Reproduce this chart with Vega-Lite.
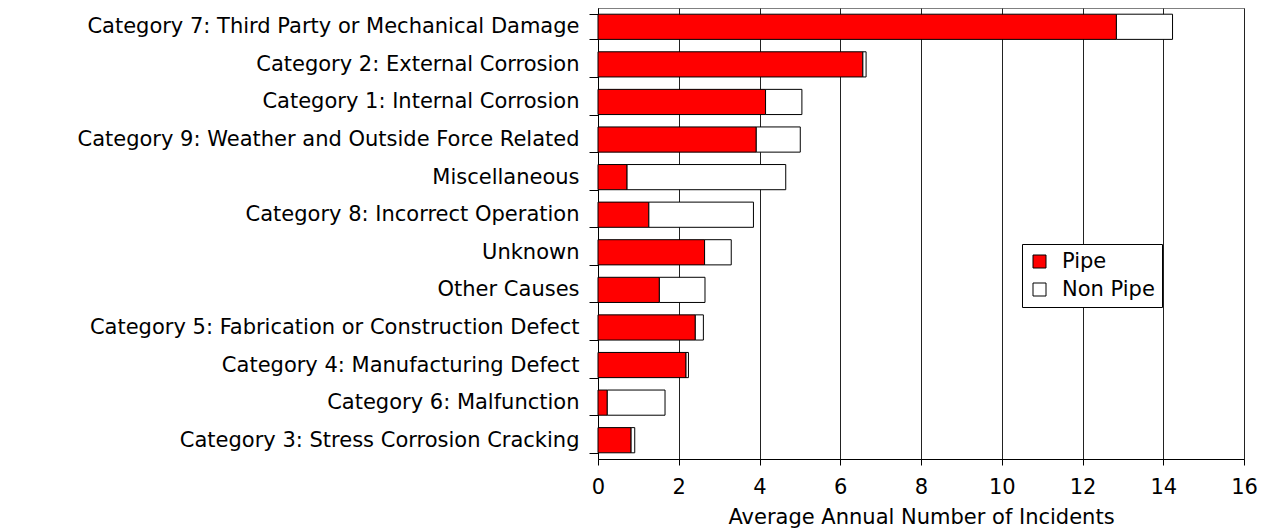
{
  "$schema": "https://vega.github.io/schema/vega-lite/v6.json",
  "autosize": "none",
  "width": 646,
  "height": 451,
  "padding": {"left": 598, "top": 8, "right": 22, "bottom": 72},
  "background": "white",
  "config": {
    "font": "DejaVu Sans",
    "view": {"stroke": "#808080", "strokeWidth": 1}
  },
  "data": {
    "values": [
      {"cause": "Category 7: Third Party or Mechanical Damage", "rank": 1, "type": "Pipe", "o": 1, "v": 12.84},
      {"cause": "Category 7: Third Party or Mechanical Damage", "rank": 1, "type": "Non Pipe", "o": 2, "v": 1.39},
      {"cause": "Category 2: External Corrosion", "rank": 2, "type": "Pipe", "o": 1, "v": 6.56},
      {"cause": "Category 2: External Corrosion", "rank": 2, "type": "Non Pipe", "o": 2, "v": 0.08},
      {"cause": "Category 1: Internal Corrosion", "rank": 3, "type": "Pipe", "o": 1, "v": 4.15},
      {"cause": "Category 1: Internal Corrosion", "rank": 3, "type": "Non Pipe", "o": 2, "v": 0.9},
      {"cause": "Category 9: Weather and Outside Force Related", "rank": 4, "type": "Pipe", "o": 1, "v": 3.92},
      {"cause": "Category 9: Weather and Outside Force Related", "rank": 4, "type": "Non Pipe", "o": 2, "v": 1.09},
      {"cause": "Miscellaneous", "rank": 5, "type": "Pipe", "o": 1, "v": 0.72},
      {"cause": "Miscellaneous", "rank": 5, "type": "Non Pipe", "o": 2, "v": 3.93},
      {"cause": "Category 8: Incorrect Operation", "rank": 6, "type": "Pipe", "o": 1, "v": 1.26},
      {"cause": "Category 8: Incorrect Operation", "rank": 6, "type": "Non Pipe", "o": 2, "v": 2.59},
      {"cause": "Unknown", "rank": 7, "type": "Pipe", "o": 1, "v": 2.64},
      {"cause": "Unknown", "rank": 7, "type": "Non Pipe", "o": 2, "v": 0.66},
      {"cause": "Other Causes", "rank": 8, "type": "Pipe", "o": 1, "v": 1.52},
      {"cause": "Other Causes", "rank": 8, "type": "Non Pipe", "o": 2, "v": 1.13},
      {"cause": "Category 5: Fabrication or Construction Defect", "rank": 9, "type": "Pipe", "o": 1, "v": 2.41},
      {"cause": "Category 5: Fabrication or Construction Defect", "rank": 9, "type": "Non Pipe", "o": 2, "v": 0.2},
      {"cause": "Category 4: Manufacturing Defect", "rank": 10, "type": "Pipe", "o": 1, "v": 2.18},
      {"cause": "Category 4: Manufacturing Defect", "rank": 10, "type": "Non Pipe", "o": 2, "v": 0.06},
      {"cause": "Category 6: Malfunction", "rank": 11, "type": "Pipe", "o": 1, "v": 0.23},
      {"cause": "Category 6: Malfunction", "rank": 11, "type": "Non Pipe", "o": 2, "v": 1.43},
      {"cause": "Category 3: Stress Corrosion Cracking", "rank": 12, "type": "Pipe", "o": 1, "v": 0.82},
      {"cause": "Category 3: Stress Corrosion Cracking", "rank": 12, "type": "Non Pipe", "o": 2, "v": 0.09}
    ]
  },
  "mark": {"type": "bar", "stroke": "black", "strokeWidth": 1},
  "encoding": {
    "y": {
      "field": "cause", "type": "nominal",
      "sort": {"field": "rank", "order": "ascending"},
      "scale": {"paddingInner": 0.33, "paddingOuter": 0.165},
      "axis": {
        "title": null,
        "tickBand": "extent",
        "tickSize": 9,
        "tickColor": "black",
        "domainColor": "black",
        "labelPadding": 10,
        "labelFontSize": 21,
        "labelColor": "black",
        "labelLimit": 600,
        "grid": false
      }
    },
    "x": {
      "field": "v", "type": "quantitative", "stack": "zero",
      "scale": {"domain": [0, 16], "nice": false},
      "axis": {
        "title": "Average Annual Number of Incidents",
        "values": [0, 2, 4, 6, 8, 10, 12, 14, 16],
        "tickSize": 6,
        "tickColor": "black",
        "domainColor": "black",
        "gridColor": "#222222",
        "gridOpacity": 1,
        "labelFontSize": 21,
        "labelColor": "black",
        "labelPadding": 11,
        "labelFlush": false,
        "titleFontSize": 21,
        "titleFontWeight": "normal",
        "titleColor": "black",
        "titlePadding": 9
      }
    },
    "color": {
      "field": "type", "type": "nominal",
      "scale": {"domain": ["Pipe", "Non Pipe"], "range": ["#FF0000", "#FFFFFF"]},
      "legend": {
        "title": null,
        "orient": "none",
        "legendX": 424,
        "legendY": 236,
        "direction": "vertical",
        "strokeColor": "black",
        "fillColor": "white",
        "padding": 7,
        "symbolType": "square",
        "symbolSize": 169,
        "symbolStrokeColor": "black",
        "symbolStrokeWidth": 1,
        "labelFontSize": 21,
        "labelColor": "black",
        "rowPadding": 6,
        "labelOffset": 12
      }
    },
    "order": {"field": "o", "type": "quantitative"}
  }
}
